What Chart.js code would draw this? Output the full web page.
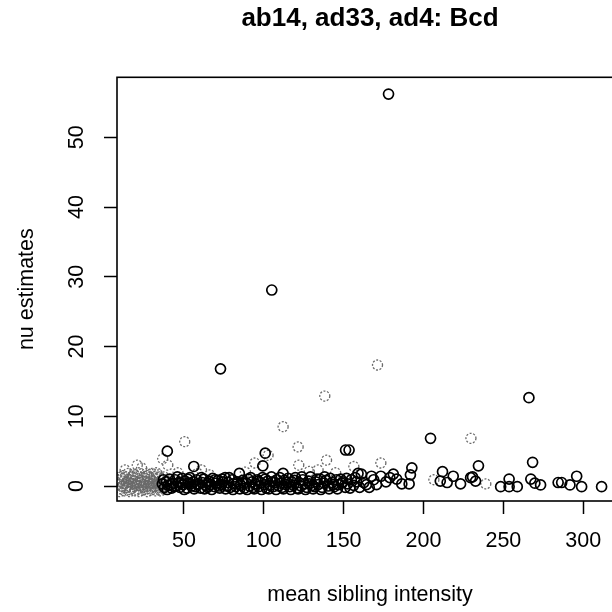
<!DOCTYPE html>
<html>
<head>
<meta charset="utf-8">
<script src="https://cdn.jsdelivr.net/npm/chart.js@4/dist/chart.umd.min.js"></script>
<style>
html,body{margin:0;padding:0;background:#fff;overflow:hidden;width:612px;height:612px;}
#wrap{width:740px;height:612px;}
</style>
</head>
<body>
<div id="wrap"><canvas id="c" width="740" height="612"></canvas></div>
<script>
// ---- data ----
const titleText = "ab14, ad33, ad4: Bcd";
const xLabel = "mean sibling intensity";
const yLabel = "nu estimates";
const xTicks = [50, 100, 150, 200, 250, 300];
const yTicks = [0, 10, 20, 30, 40, 50];

// dark (solid) circles
const darkX = [178.1, 105.0, 72.9, 266.0, 204.4, 39.6, 151.2, 153.4, 100.9, 56.2, 84.7, 99.4, 112.1,
  192.7, 191.8, 234.4, 268.3, 211.9, 218.6, 230.7, 295.9, 311.5,
  36.5, 37.8, 38.9, 40.2, 41.0, 42.3, 43.1, 44.5, 45.2, 46.8, 47.5, 48.9, 49.6, 50.8, 51.9, 52.6, 53.8, 54.7,
  55.9, 57.1, 58.0, 59.2, 60.4, 61.3, 62.5, 63.6, 64.8, 65.7, 66.9, 68.0, 69.2, 70.1, 71.3, 72.4, 73.6, 74.5,
  75.8, 76.7, 77.9, 79.0, 80.2, 81.1, 82.5, 83.4, 85.6, 86.8, 88.0, 89.1, 90.3, 91.2, 92.6, 93.5, 94.7, 95.9,
  96.8, 98.0, 99.2, 100.3, 101.5, 102.4, 103.7, 104.8, 105.9, 107.1, 108.2, 109.4, 110.6, 111.5, 112.9, 114.0,
  115.2, 116.3, 117.5, 118.6, 119.8, 120.9, 122.1, 123.3, 124.4, 125.6, 126.8, 128.0, 129.2, 130.4, 131.6,
  132.7, 134.0, 135.2, 136.5, 137.7, 139.0, 140.3, 141.6, 142.8, 144.1, 145.5, 146.8, 148.2, 149.6, 151.0,
  152.5, 154.8, 156.3, 158.0,
  37.2, 39.5, 41.7, 43.8, 45.9, 48.1, 50.2, 52.3, 54.1, 56.4, 58.6, 60.9, 62.9, 65.1, 67.4, 69.6, 71.8, 73.9,
  76.1, 78.3, 80.7, 82.9, 85.0, 87.3, 89.6, 91.8, 94.0, 96.3, 98.6, 100.9, 103.1, 105.4, 107.7, 110.0, 112.3,
  114.6, 116.9, 119.2, 121.5, 123.8, 126.1, 128.5, 130.9, 133.3, 135.7, 138.1, 140.9, 143.5, 146.1, 148.9,
  151.8, 154.0, 157.2, 160.0, 162.6, 166.0, 168.8, 176.5, 178.9,
  161.1, 167.4, 173.3, 181.1, 183.2, 164.3, 170.6, 186.4, 191.0, 159.0, 210.5, 214.8, 223.2, 229.5, 232.6,
  248.3, 253.6, 253.6, 258.7, 267.2, 269.7, 273.3, 284.3, 286.5, 291.7, 299.0];
const darkY = [56.2, 28.1, 16.8, 12.66, 6.84, 5.0, 5.16, 5.16, 4.7, 2.8, 1.8, 2.9, 1.8,
  2.6, 1.6, 2.9, 3.4, 2.05, 1.4, 1.3, 1.4, -0.1,
  0.3, -0.2, 0.6, 0.1, 1.0, -0.3, 0.4, 0.9, 0.0, 0.5, -0.2, 1.1, 0.2, 0.7, -0.3, 0.4, 1.2, 0.0,
  0.6, -0.1, 0.9, 0.3, -0.3, 0.5, 1.0, 0.1, -0.2, 0.7, 0.2, 1.1, -0.1, 0.4, 0.8, -0.3, 0.2, 0.6,
  1.2, 0.0, 0.5, -0.2, 0.9, 0.3, -0.1, 0.6, 0.1, 0.8, -0.3, 0.4, 1.0, 0.0, 0.6, -0.2, 0.3, 0.9,
  -0.1, 0.5, 1.2, 0.2, -0.3, 0.7, 0.1, 1.3, -0.1, 0.5, 0.9, 0.0, 0.4, -0.2, 0.8, 0.2,
  1.1, -0.1, 0.6, 0.1, 1.2, -0.3, 0.5, 0.0, 0.9, 0.3, -0.2, 0.7, 1.3, 0.1, -0.1,
  0.6, 0.2, 1.0, -0.2, 0.4, 0.8, 0.0, 1.1, 0.5, -0.1, 0.9, 0.2, 1.0, 0.6, -0.2,
  0.3, 0.9, 0.1, 0.6,
  0.9, -0.5, 0.2, -0.1, 1.3, 0.4, -0.5, 1.0, 0.3, -0.4, 0.2, 1.2, -0.4, 0.4, -0.5, 0.9, 0.0, 1.0,
  -0.4, 1.2, -0.5, 0.3, -0.4, 0.4, -0.5, 1.2, -0.4, 0.7, -0.5, 1.0, -0.4, 0.6, -0.5, 1.2, -0.4,
  0.5, -0.5, 0.8, -0.4, 1.3, -0.5, 0.3, -0.4, 1.0, -0.5, 1.3, -0.4, 0.2, -0.4, 0.4,
  1.1, -0.3, 1.2, -0.2, 0.5, -0.2, 0.9, 0.6, 1.2,
  1.7, 1.4, 1.4, 1.7, 1.0, 0.2, 0.2, 0.3, 0.3, 1.8, 0.7, 0.5, 0.3, 1.2, 0.7,
  -0.1, 1.0, -0.1, -0.1, 1.0, 0.4, 0.15, 0.5, 0.5, 0.15, -0.1];

// light (dotted grey) circles
const lightX = [171.2, 138.2, 229.7, 112.1, 50.5, 121.5, 102.7, 36.7, 39.9, 20.8, 13.2, 61.0, 66.2, 26.7,
  32.8, 46.3, 94.4, 139.3, 134.0, 121.9, 156.4, 173.3, 239.0, 206.5,
  9.5, 10.3, 11.0, 11.8, 12.5, 13.3, 14.0, 14.8, 15.5, 16.3, 17.0, 17.8, 18.5, 19.3, 20.0, 20.8, 21.5,
  22.3, 23.0, 23.8, 24.5, 25.3, 26.0, 26.8, 27.5, 28.3, 29.0, 29.8, 30.5, 31.3, 32.0, 32.8, 33.5, 34.3,
  35.0, 35.8, 36.6, 37.5, 12.0, 19.0, 27.0, 34.0, 58.5, 88.5, 128.5, 145.0,
  9.0, 9.8, 10.7, 11.4, 12.2, 13.0, 13.7, 14.4, 15.2, 15.9, 16.7, 17.4, 18.2, 18.9, 19.6, 20.4, 21.1,
  21.9, 22.6, 23.4, 24.1, 24.9, 25.6, 26.4, 27.1, 27.9, 28.6, 29.4, 30.1, 30.9, 31.6, 32.4, 33.1, 33.9,
  34.6, 35.4, 36.2, 37.0, 15.0, 22.0, 30.0, 23.5];
const lightY = [17.35, 12.9, 6.84, 8.5, 6.35, 5.6, 4.4, 3.9, 3.0, 3.0, 2.3, 2.3, 1.6, 1.8,
  1.9, 1.9, 3.3, 3.7, 2.3, 3.0, 2.8, 3.3, 0.3, 0.9,
  0.2, -0.4, 0.7, 0.0, 1.1, -0.3, 0.5, 0.1, 0.9, -0.5, 0.3, 1.2, -0.1, 0.6, 0.0, 1.0, -0.4,
  0.4, 0.8, -0.2, 0.2, 1.1, -0.5, 0.5, 0.0, 0.9, -0.3, 0.3, 1.2, -0.1, 0.6, 0.1, 1.0, -0.4,
  0.4, 0.8, -0.1, 1.3, 1.5, 1.6, 1.5, 1.6, 1.8, 2.0, 2.1, 1.9,
  0.9, -0.8, 1.4, -0.1, 0.4, -0.7, 1.3, -0.2, 0.6, -0.8, 0.9, -0.3, 1.4, 0.3, -0.7, 0.5, 1.4,
  -0.8, 0.1, 1.3, -0.6, 0.7, -0.2, 1.4, -0.8, 0.3, 1.3, -0.6, 0.7, -0.2, 1.4, -0.7, 0.4, -0.2,
  1.3, -0.7, 0.2, -0.4, 1.8, 1.9, 1.8, 2.6];

const toPts = (xs, ys) => xs.map((x, i) => ({x: x, y: ys[i]}));

const FONT = "'Liberation Sans', Arial, Helvetica, sans-serif";

const boxPlugin = {
  id: 'box',
  beforeDatasetDraw(chart, args) {
    if (args.index === 1) { chart.ctx.save(); chart.ctx.setLineDash([2, 1.6]); }
  },
  afterDatasetDraw(chart, args) {
    if (args.index === 1) { chart.ctx.restore(); }
  },
  afterDraw(chart) {
    const a = chart.chartArea, ctx = chart.ctx;
    ctx.save();
    ctx.strokeStyle = '#000';
    ctx.lineWidth = 1.6;
    ctx.strokeRect(a.left, a.top, a.right - a.left, a.bottom - a.top);
    ctx.restore();
  }
};

new Chart(document.getElementById('c'), {
  type: 'scatter',
  data: {
    datasets: [
      {
        label: 'dark',
        data: toPts(darkX, darkY),
        pointRadius: 5,
        pointHoverRadius: 5,
        pointBorderWidth: 1.7,
        borderColor: '#000',
        backgroundColor: 'rgba(0,0,0,0)',
        clip: 0
      },
      {
        label: 'light',
        data: toPts(lightX, lightY),
        pointRadius: 5,
        pointHoverRadius: 5,
        pointBorderWidth: 1.3,
        borderColor: '#6a6a6a',
        backgroundColor: 'rgba(0,0,0,0)',
        clip: 0
      }
    ]
  },
  options: {
    responsive: false,
    animation: false,
    events: [],
    layout: {padding: 0},
    plugins: {
      legend: {display: false},
      tooltip: {enabled: false},
      title: {
        display: true,
        text: titleText,
        color: '#000',
        font: {family: FONT, size: 26, weight: 'bold'},
        padding: {top: 3.7, bottom: 42.4}
      }
    },
    scales: {
      x: {
        type: 'linear',
        position: 'bottom',
        min: 8.1,
        max: 324.9,
        afterBuildTicks: s => { s.ticks = xTicks.map(v => ({value: v})); },
        afterFit: s => { s.height = 111; },
        grid: {display: true, drawOnChartArea: false, drawTicks: true, tickLength: 13, tickColor: '#000', tickWidth: 1.5},
        border: {display: false},
        ticks: {color: '#000', font: {family: FONT, size: 21.5}, padding: 14.6, maxRotation: 0, autoSkip: false},
        title: {display: true, text: xLabel, color: '#000', font: {family: FONT, size: 21.5}, padding: {top: 0, bottom: 3.6}}
      },
      y: {
        type: 'linear',
        position: 'left',
        min: -2.15,
        max: 58.6,
        afterBuildTicks: s => { s.ticks = yTicks.map(v => ({value: v})); },
        afterFit: s => { s.width = 117; },
        grid: {display: true, drawOnChartArea: false, drawTicks: true, tickLength: 13, tickColor: '#000', tickWidth: 1.5},
        border: {display: false},
        ticks: {color: '#000', font: {family: FONT, size: 21.5}, padding: 14.5, minRotation: 90, maxRotation: 90, crossAlign: 'center', autoSkip: false},
        title: {display: true, text: yLabel, color: '#000', font: {family: FONT, size: 21.5}, padding: {top: 14.6, bottom: 0}}
      },
      yR: {
        type: 'linear',
        position: 'right',
        display: true,
        afterFit: s => { s.width = 117; },
        grid: {display: false},
        border: {display: false},
        ticks: {display: false}
      }
    }
  },
  plugins: [boxPlugin]
});
</script>
</body>
</html>
